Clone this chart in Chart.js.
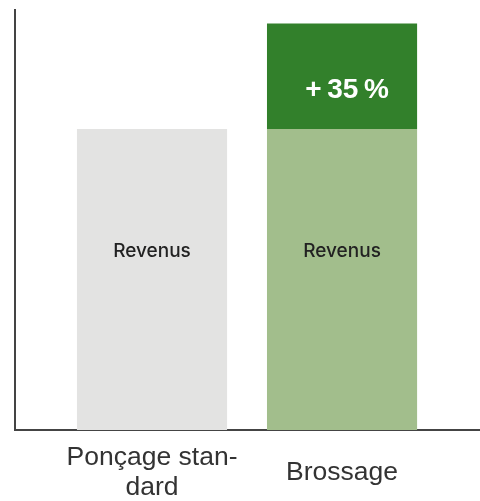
<!DOCTYPE html>
<html>
<head>
<meta charset="utf-8">
<script src="https://cdn.jsdelivr.net/npm/chart.js@4/dist/chart.umd.min.js"></script>
<style>
  html, body { margin: 0; padding: 0; background: #ffffff; }
  #wrap { width: 480px; height: 501px; }
</style>
</head>
<body>
<div id="wrap"><canvas id="c" width="480" height="501"></canvas></div>
<script>
// ---- data ----
const categories = [['Ponçage stan-', 'dard'], 'Brossage'];
const revenus = [100, 100];
const gain = [0, 35];
const revenusLabels = ['Revenus', 'Revenus'];
const gainLabels = ['', '+\u200935\u2009%'];

// ---- styles ----
const revenusColors = ['#e3e3e2', '#a2be8c'];
const gainColor = '#32802b';
const axisColor = '#444444';

const labelPlugin = {
  id: 'segLabels',
  afterDatasetsDraw(chart) {
    const ctx = chart.ctx;
    const y = chart.scales.y;
    ctx.save();
    ctx.textAlign = 'center';
    ctx.textBaseline = 'middle';
    const m0 = chart.getDatasetMeta(0);
    m0.data.forEach((bar, i) => {
      if (!revenusLabels[i]) return;
      ctx.fillStyle = '#222222';
      ctx.font = '500 19px Inter, "Liberation Sans", sans-serif';
      ctx.fillText(revenusLabels[i], bar.x, y.getPixelForValue(revenus[i] * 0.595));
    });
    const m1 = chart.getDatasetMeta(1);
    m1.data.forEach((bar, i) => {
      if (!gainLabels[i]) return;
      ctx.fillStyle = '#ffffff';
      ctx.font = 'bold 28px "Liberation Sans", Arial, sans-serif';
      ctx.fillText(gainLabels[i], bar.x + 5, y.getPixelForValue(revenus[i] + gain[i] * 0.37));
    });
    ctx.restore();
  }
};

new Chart(document.getElementById('c'), {
  type: 'bar',
  data: {
    datasets: [
      {
        label: 'Revenus',
        data: categories.map((c, i) => ({ x: i + 1, y: revenus[i] })),
        backgroundColor: revenusColors,
        borderWidth: 0
      },
      {
        label: 'Gain',
        data: categories.map((c, i) => ({ x: i + 1, y: gain[i] })),
        backgroundColor: gainColor,
        borderWidth: 0
      }
    ]
  },
  options: {
    responsive: false,
    animation: false,
    devicePixelRatio: 1,
    layout: { padding: { left: 15, top: 10, right: 0, bottom: 0 } },
    categoryPercentage: 1,
    barPercentage: 0.79,
    plugins: {
      legend: { display: false },
      tooltip: { enabled: false }
    },
    scales: {
      x: {
        type: 'linear',
        stacked: true,
        offset: false,
        min: 0.279,
        max: 2.726,
        afterBuildTicks: (scale) => {
          scale.ticks = categories.map((c, i) => ({ value: i + 1 }));
        },
        afterFit: (scale) => { scale.height = 71; },
        grid: { display: false, drawTicks: false, offset: false },
        border: { display: true, color: axisColor, width: 2 },
        ticks: {
          autoSkip: false,
          maxRotation: 0,
          minRotation: 0,
          padding: 28,
          crossAlign: 'center',
          color: '#333333',
          font: { family: '"Liberation Sans", Arial, sans-serif', size: 26.5, lineHeight: 1.13 },
          callback: (v) => categories[Math.round(v) - 1]
        }
      },
      y: {
        stacked: true,
        min: 0,
        max: 139.5,
        grid: { display: false, drawTicks: false },
        border: { display: true, color: axisColor, width: 2 },
        ticks: { display: false }
      }
    }
  },
  plugins: [labelPlugin]
});
</script>
</body>
</html>
